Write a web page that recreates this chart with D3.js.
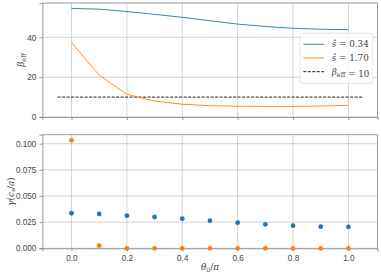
<!DOCTYPE html>
<html>
<head>
<meta charset="utf-8">
<script src="https://cdn.jsdelivr.net/npm/d3@7"></script>
<style>
  body { margin: 0; background: #fff; }
  svg { display: block; font-family: "DejaVu Serif", "Liberation Serif", serif; }
  .grid line { stroke: #b0b0b0; stroke-width: 0.8; stroke-opacity: 0.7; }
  .axis path, .axis line { stroke: #7f7f7f; stroke-width: 0.8; }
  .axis text { fill: #444; font-size: 8.2px; }
  .label { fill: #444; font-size: 8.8px; }
</style>
</head>
<body>
<svg id="chart" width="381" height="278"></svg>
<script>
"use strict";

// theta_0 / pi
let theta = [0.0, 0.1, 0.2, 0.3, 0.4, 0.5, 0.6, 0.7, 0.8, 0.9, 1.0];

// beta_eff for each s-hat
let betaLow = [54.6, 54.2, 53.0, 51.6, 50.1, 48.4, 46.7, 45.5, 44.6, 44.1, 43.9];
let betaHigh = [37.5, 21.0, 11.4, 8.0, 6.4, 5.7, 5.4, 5.3, 5.3, 5.5, 5.9];
let betaRef = 10;

// growth rate gamma (c_s/a)
let gammaLow = [0.0335, 0.0328, 0.0312, 0.0299, 0.0283, 0.0264, 0.0245, 0.0229, 0.0216, 0.0207, 0.0204];
let gammaHigh = [0.1032, 0.0025, 0, 0, 0, 0, 0, 0, 0, 0, 0];

let xTicks = [0.0, 0.2, 0.4, 0.6, 0.8, 1.0];
let betaTicks = [0, 20, 40];
let gammaTicks = [0, 0.025, 0.05, 0.075, 0.1];
let legendLabels = ['0.34', '1.70', '10'];

let blue = '#1f77b4', orange = '#ff7f0e';

let svg = d3.select('#chart');

let x = d3.scaleLinear().domain([-0.105, 1.105]).range([42.4, 377.5]);
let yTop = d3.scaleLinear().domain([0, 57.3]).range([117, 3]);
let yBot = d3.scaleLinear().domain([0, 0.1086]).range([248.3, 134.7]);

function panel(y, yticks, fmt, showX) {
  let g = svg.append('g');
  let [y0, y1] = y.range();
  let [x0, x1] = x.range();

  let grid = g.append('g').attr('class', 'grid');
  grid.selectAll('line.v').data(xTicks).join('line')
    .attr('class', 'v')
    .attr('x1', d => x(d)).attr('x2', d => x(d))
    .attr('y1', y0).attr('y2', y1);
  grid.selectAll('line.h').data(yticks).join('line')
    .attr('class', 'h')
    .attr('x1', x0).attr('x2', x1)
    .attr('y1', d => y(d)).attr('y2', d => y(d));

  g.append('g').attr('class', 'axis')
    .attr('transform', `translate(0,${y0})`)
    .call(d3.axisBottom(x).tickValues(xTicks).tickSizeOuter(0).tickSize(3)
      .tickFormat(showX ? d3.format('.1f') : ''))
    .call(a => a.selectAll('text').attr('dy', '0.85em'));
  g.append('g').attr('class', 'axis')
    .attr('transform', `translate(${x0},0)`)
    .call(d3.axisLeft(y).tickValues(yticks).tickSizeOuter(0).tickSize(3).tickFormat(fmt));

  // top and right spines
  g.append('path')
    .attr('d', `M${x0},${y1}H${x1}V${y0}`)
    .attr('fill', 'none').attr('stroke', '#7f7f7f').attr('stroke-width', 0.8);
  return g;
}

// ---- top panel: beta_eff
let topG = panel(yTop, betaTicks, d3.format('d'), false);
let lineTop = d3.line().x((d, i) => x(theta[i])).y(d => yTop(d));

topG.append('line')
  .attr('x1', x(-0.05)).attr('x2', x(1.05))
  .attr('y1', yTop(betaRef)).attr('y2', yTop(betaRef))
  .attr('stroke', '#000').attr('stroke-width', 0.9).attr('stroke-dasharray', '3,1.5');
topG.append('path').datum(betaLow).attr('d', lineTop)
  .attr('fill', 'none').attr('stroke', blue).attr('stroke-width', 0.9);
topG.append('path').datum(betaHigh).attr('d', lineTop)
  .attr('fill', 'none').attr('stroke', orange).attr('stroke-width', 0.9);

// legend
let leg = topG.append('g').attr('transform', 'translate(300,33.3)');
leg.append('rect').attr('width', 72.7).attr('height', 50).attr('rx', 1.5)
  .attr('fill', '#fff').attr('fill-opacity', 0.8).attr('stroke', '#ddd').attr('stroke-width', 0.8);
let entries = [
  {color: blue, dash: null, name: 's'},
  {color: orange, dash: null, name: 's'},
  {color: '#000', dash: '3,1.5', name: 'b'},
];
entries.forEach((e, i) => {
  let yy = 11 + i * 13.7;
  leg.append('line').attr('x1', 3.3).attr('x2', 24).attr('y1', yy).attr('y2', yy)
    .attr('stroke', e.color).attr('stroke-width', 0.9).attr('stroke-dasharray', e.dash);
  let t = leg.append('text').attr('class', 'label').attr('x', 31.7).attr('y', yy + 3);
  if (e.name === 's') {
    t.append('tspan').attr('font-style', 'italic').text('ŝ');
  } else {
    t.append('tspan').attr('font-style', 'italic').text('β');
    t.append('tspan').attr('font-size', '6.5px').attr('dy', 2).text('eff');
    t.append('tspan').attr('dy', -2).text('');
  }
  t.append('tspan').text(' = ' + legendLabels[i]);
});

// y label top
let ylab1 = svg.append('text').attr('class', 'label')
  .attr('transform', `translate(24,${(yTop.range()[0] + yTop.range()[1]) / 2}) rotate(-90)`)
  .attr('text-anchor', 'middle');
ylab1.append('tspan').attr('font-style', 'italic').text('β');
ylab1.append('tspan').attr('font-size', '6.5px').attr('dy', 2).text('eff');

// ---- bottom panel: gamma
let botG = panel(yBot, gammaTicks, d3.format('.3f'), true);
botG.selectAll('circle.low').data(gammaLow).join('circle')
  .attr('class', 'low')
  .attr('cx', (d, i) => x(theta[i])).attr('cy', d => yBot(d)).attr('r', 2.4)
  .attr('fill', blue);
botG.selectAll('circle.high').data(gammaHigh).join('circle')
  .attr('class', 'high')
  .attr('cx', (d, i) => x(theta[i])).attr('cy', d => yBot(d)).attr('r', 2.4)
  .attr('fill', orange);

let ylab2 = svg.append('text').attr('class', 'label')
  .attr('transform', `translate(13.5,${(yBot.range()[0] + yBot.range()[1]) / 2}) rotate(-90)`)
  .attr('text-anchor', 'middle');
ylab2.append('tspan').attr('font-style', 'italic').text('γ');
ylab2.append('tspan').text('(');
ylab2.append('tspan').attr('font-style', 'italic').text('c');
ylab2.append('tspan').attr('font-size', '6px').attr('font-style', 'italic').attr('dy', 1.5).text('s');
ylab2.append('tspan').attr('dy', -1.5).text('/');
ylab2.append('tspan').attr('font-style', 'italic').text('a');
ylab2.append('tspan').text(')');

// x label
let xlab = svg.append('text').attr('class', 'label')
  .attr('x', 210).attr('y', 270).attr('text-anchor', 'middle');
xlab.append('tspan').attr('font-style', 'italic').text('θ');
xlab.append('tspan').attr('font-size', '6px').attr('dy', 1.5).text('0');
xlab.append('tspan').attr('dy', -1.5).text('/');
xlab.append('tspan').attr('font-style', 'italic').text('π');
</script>
</body>
</html>
